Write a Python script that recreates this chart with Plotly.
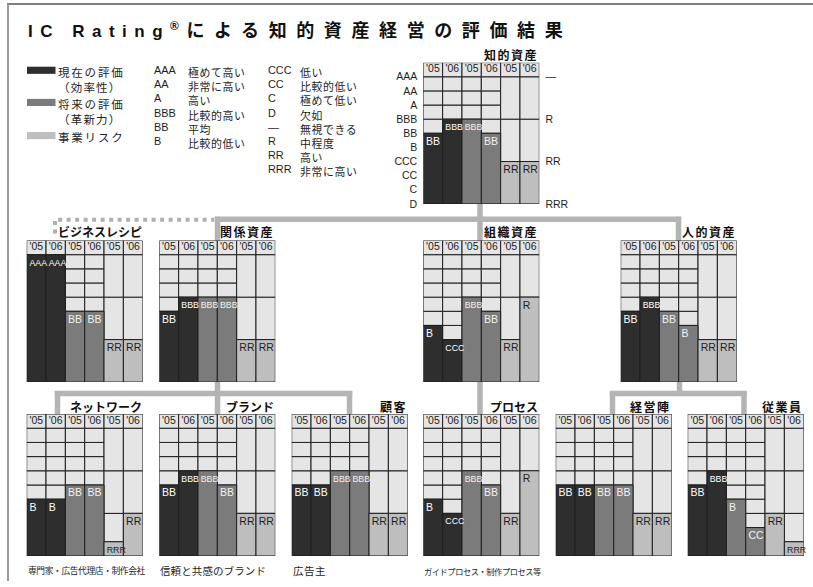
import plotly.graph_objects as go

W, H = 813, 587

# ---------------- data ----------------
RATING_LEVELS = ["D", "C", "CC", "CCC", "B", "BB", "BBB", "A", "AA", "AAA"]
RISK_LABELS = ["—", "R", "RR", "RRR"]
RISK_BAR_LEVEL = {"—": 9, "R": 6, "RR": 3, "RRR": 1}
YEARS = ["'05", "'06", "'05", "'06", "'05", "'06"]
COLUMN_KINDS = ["current", "current", "future", "future", "risk", "risk"]

panel_names = ["知的資産", "ビジネスレシピ", "関係資産", "組織資産", "人的資産",
               "ネットワーク", "ブランド", "顧客", "プロセス", "経営陣", "従業員"]
intellectual_assets = ["BB", "BBB", "BBB", "BB", "RR", "RR"]
business_recipe = ["AAA", "AAA", "BB", "BB", "RR", "RR"]
relational_assets = ["BB", "BBB", "BBB", "BBB", "RR", "RR"]
structural_assets = ["B", "CCC", "BBB", "BB", "RR", "R"]
human_assets = ["BB", "BBB", "BB", "B", "RR", "RR"]
network = ["B", "B", "BB", "BB", "RRR", "RR"]
brand = ["BB", "BBB", "BBB", "BB", "RR", "RR"]
customers = ["BB", "BB", "BBB", "BBB", "RR", "RR"]
process = ["B", "CCC", "BBB", "BB", "RR", "R"]
management = ["BB", "BB", "BB", "BB", "RR", "RR"]
employees = ["BB", "BBB", "B", "CC", "RR", "RRR"]
panel_ratings = [intellectual_assets, business_recipe, relational_assets,
                 structural_assets, human_assets, network, brand, customers,
                 process, management, employees]
panel_notes = [None, None, None, None, None,
               "専門家・広告代理店・制作会社", "信頼と共感のブランド", "広告主",
               "ガイドプロセス・制作プロセス等", None, None]

legend_series = [("現在の評価", "（効率性）"), ("将来の評価", "（革新力）"), ("事業リスク", None)]
legend_codes_1 = ["AAA", "AA", "A", "BBB", "BB", "B"]
legend_desc_1 = ["極めて高い", "非常に高い", "高い", "比較的高い", "平均", "比較的低い"]
legend_codes_2 = ["CCC", "CC", "C", "D", "—", "R", "RR", "RRR"]
legend_desc_2 = ["低い", "比較的低い", "極めて低い", "欠如", "無視できる", "中程度", "高い", "非常に高い"]

TITLE_LATIN = "IC Rating"
TITLE_MARK = "®"
TITLE_JP = "による知的資産経営の評価結果"

# ---------------- style / layout ----------------
COLORS = {"current": "#2e2e2e", "future": "#7b7b7b", "risk": "#bebebe"}
TEXT_COLORS = {"current": "#ffffff", "future": "#f2f2f2", "risk": "#1e1e1e"}
CELL = "#e5e5e5"
EDGE = "#1e1e1e"
CONN = "#b4b4b4"
JP = "Noto Sans CJK JP"
LAT = "Liberation Sans, Arial, Noto Sans CJK JP"

PW = 116.0
# (left px, top px of header, bottom px)
panel_boxes = [
    (423.3, 63.3, 206.0),
    (26.7, 243.0, 386.0), (159.3, 243.0, 386.0), (423.3, 243.0, 386.0), (620.7, 243.0, 386.0),
    (26.7, 418.3, 561.7), (159.3, 418.3, 561.7), (291.7, 418.3, 561.7),
    (423.3, 418.3, 561.7), (555.7, 418.3, 561.7), (687.7, 418.3, 561.7),
]
title_y = [55, 233.5, 233.5, 233.5, 233.5, 410.5, 410.5, 410.5, 410.5, 410.5, 410.5]
note_width = [None, None, None, None, None, 117, 106, 33, 117, None, None]


def px(x):
    return x / W


def py(y):
    return 1 - y / H


def level_of(code, kind):
    if kind == "risk":
        return RISK_BAR_LEVEL[code]
    return RATING_LEVELS.index(code)


fig = go.Figure()
layout_axes = {}
annotations = []

for k, (name, ratings) in enumerate(zip(panel_names, panel_ratings), start=1):
    xa = "x" if k == 1 else f"x{k}"
    ya = "y" if k == 1 else f"y{k}"
    cols = list(range(len(ratings)))
    vals = [level_of(r, kind) for r, kind in zip(ratings, COLUMN_KINDS)]

    # light (empty) cells above each bar
    cx, cb, ch = [], [], []
    for i, (v, kind) in enumerate(zip(vals, COLUMN_KINDS)):
        if kind == "risk":
            for lo, hi in [(0, 3), (3, 6), (6, 9)]:
                if hi > v:
                    b = max(lo, v)
                    cx.append(i); cb.append(b); ch.append(hi - b)
        else:
            for lv in range(v, 9):
                cx.append(i); cb.append(lv); ch.append(1)
    fig.add_trace(go.Bar(x=cx, y=ch, base=cb, width=1, xaxis=xa, yaxis=ya,
                         marker=dict(color=CELL, line=dict(color=EDGE, width=1)),
                         cliponaxis=False, hoverinfo="skip", showlegend=False))
    # header row
    fig.add_trace(go.Bar(x=cols, y=[1] * 6, base=[9] * 6, width=1, xaxis=xa, yaxis=ya,
                         marker=dict(color=CELL, line=dict(color=EDGE, width=1)),
                         cliponaxis=False, hoverinfo="skip", showlegend=False))
    # value bars
    fig.add_trace(go.Bar(x=cols, y=vals, base=[0] * 6, width=1, xaxis=xa, yaxis=ya,
                         marker=dict(color=[COLORS[c] for c in COLUMN_KINDS],
                                     line=dict(color=EDGE, width=1)),
                         cliponaxis=False, hoverinfo="skip", showlegend=False))
    # header labels
    fig.add_trace(go.Scatter(x=cols, y=[9.5] * 6, text=YEARS, mode="text",
                             textposition="middle center", xaxis=xa,
                             yaxis=("y12" if k == 1 else ya),
                             textfont=dict(family=LAT, size=10.5, color="#1e1e1e"),
                             cliponaxis=False, hoverinfo="skip", showlegend=False))
    # value labels, top-left inside the bars
    fig.add_trace(go.Scatter(x=[i - 0.36 for i in cols], y=[v - 0.62 for v in vals],
                             text=ratings, mode="text", textposition="middle right",
                             xaxis=xa, yaxis=ya,
                             textfont=dict(family=LAT,
                                           size=[10.5 if len(r) < 3 else 8.8 for r in ratings],
                                           color=[TEXT_COLORS[c] for c in COLUMN_KINDS]),
                             cliponaxis=False, hoverinfo="skip", showlegend=False))

    left, top, bottom = panel_boxes[k - 1]
    xkey = "xaxis" if k == 1 else f"xaxis{k}"
    ykey = "yaxis" if k == 1 else f"yaxis{k}"
    layout_axes[xkey] = dict(domain=[px(left), px(left + PW)], range=[-0.5, 5.5],
                             anchor=ya, showgrid=False, zeroline=False, showline=False,
                             showticklabels=False, fixedrange=True)
    yax = dict(domain=[py(bottom), py(top)], range=[0, 10], anchor=xa,
               showgrid=False, zeroline=False, showline=False, showticklabels=False,
               fixedrange=True)
    if k == 1:
        yax.update(showticklabels=True, tickvals=list(range(10)), ticktext=RATING_LEVELS,
                   ticks="outside", ticklen=3, tickcolor="rgba(0,0,0,0)",
                   tickfont=dict(family=LAT, size=10.5, color="#1e1e1e"))
    layout_axes[ykey] = yax

    spacing = "1.5px" if all(ord(ch) > 0x4E00 for ch in name) else "0px"
    annotations.append(dict(text=f'<span style="letter-spacing:{spacing}">{name}</span>',
                            xref=f"{xa} domain", x=1.0, xanchor="right",
                            yref="paper", y=py(title_y[k - 1]), yanchor="middle",
                            showarrow=False, borderpad=0,
                            font=dict(family=JP, size=12, color="#111111", weight="bold")))
    note = panel_notes[k - 1]
    if note:
        n = len(note)
        size = min(10.5, note_width[k - 1] / n + 0.4)
        ls = (note_width[k - 1] - n * size) / n
        annotations.append(dict(text=f'<span style="letter-spacing:{ls:.2f}px">{note}</span>',
                                xref=f"{xa} domain", x=0.0,
                                xanchor="left", yref="paper", y=py(576.5), yanchor="middle",
                                showarrow=False, borderpad=0,
                                font=dict(family=JP, size=size, color="#1e1e1e")))

# right-hand risk axis of the top panel
layout_axes["yaxis12"] = dict(overlaying="y", side="right", anchor="x", range=[0, 10],
                              tickvals=[9, 6, 3, 0], ticktext=RISK_LABELS,
                              showgrid=False, zeroline=False, showline=False,
                              ticks="outside", ticklen=3, tickcolor="rgba(0,0,0,0)",
                              tickfont=dict(family=LAT, size=10.5, color="#1e1e1e"),
                              fixedrange=True)

# ---------------- title & legend ----------------
title_html = (f'<span style="letter-spacing:7.5px">{TITLE_LATIN}<sup>{TITLE_MARK}</sup>'
              f'<span style="letter-spacing:9.6px;font-size:18px">{TITLE_JP}</span></span>')
annotations.append(dict(text=title_html, xref="paper", yref="paper", x=px(27), y=py(30),
                        xanchor="left", yanchor="middle", showarrow=False, borderpad=0,
                        font=dict(family="Liberation Sans, Noto Sans CJK JP",
                                  size=17, color="#111111", weight="bold")))

shapes = []
sw_y = [71, 103.5, 137]
for (main, sub), kind, yy in zip(legend_series, COLUMN_KINDS[::2], sw_y):
    shapes.append(dict(type="rect", xref="paper", yref="paper", x0=px(27), x1=px(55.5),
                       y0=py(yy - 3.6), y1=py(yy + 3.6), fillcolor=COLORS[kind],
                       line=dict(width=0), layer="above"))
    txt = f'<span style="letter-spacing:1.8px">{main}</span>'
    if sub:
        txt += f'<br><span style="letter-spacing:1.2px">{sub}</span>'
    annotations.append(dict(text=txt, xref="paper", yref="paper", x=px(56.5), y=py(yy - 7.5),
                            xanchor="left", yanchor="top", align="left", showarrow=False,
                            borderpad=0, font=dict(family=JP, size=11.5, color="#1e1e1e")))

row_y0 = 70.7
for col_x, (codes, descs) in zip([(153, 186.5), (267, 298.5)],
                                 [(legend_codes_1, legend_desc_1), (legend_codes_2, legend_desc_2)]):
    annotations.append(dict(text="<br>".join(codes), xref="paper", yref="paper",
                            x=px(col_x[0]), y=py(row_y0 - 7.1), xanchor="left", yanchor="top",
                            align="left", showarrow=False, borderpad=0,
                            font=dict(family=LAT, size=10.9, color="#1e1e1e")))
    annotations.append(dict(text="<br>".join(f'<span style="letter-spacing:0.6px">{d}</span>'
                                             for d in descs),
                            xref="paper", yref="paper", x=px(col_x[1]), y=py(row_y0 - 7.1),
                            xanchor="left", yanchor="top", align="left", showarrow=False,
                            borderpad=0, font=dict(family=JP, size=10.9, color="#1e1e1e")))

# ---------------- connectors & frame ----------------
def seg(x0, y0, x1, y1, color=CONN, width=5.5):
    return dict(type="line", xref="paper", yref="paper", x0=px(x0), y0=py(y0),
                x1=px(x1), y1=py(y1), line=dict(color=color, width=width), layer="below")

shapes += [
    seg(480, 206, 480, 221.5),
    seg(214.8, 221.5, 681.2, 221.5),
    seg(217.5, 219, 217.5, 420),
    seg(480, 219, 480, 420),
    seg(678.5, 219, 678.5, 245),
    seg(679.5, 384, 679.5, 400),
    seg(54.8, 397.5, 352.2, 397.5),
    seg(57.5, 395, 57.5, 420),
    seg(349.5, 395, 349.5, 420),
    seg(609.8, 397.5, 746.7, 397.5),
    seg(612.5, 395, 612.5, 420),
    seg(744, 395, 744, 420),
]
shapes.append(dict(type="path", xref="paper", yref="paper",
                   path=f"M {px(55)},{py(236)} L {px(55)},{py(222)} L {px(214)},{py(222)}",
                   line=dict(color="#b0b0b0", width=4, dash="4px,4.5px"), layer="below"))
# frame
shapes.append(dict(type="line", xref="paper", yref="paper", x0=px(7), x1=1, y0=py(4), y1=py(4),
                   line=dict(color="#555555", width=1.5), layer="above"))
shapes.append(dict(type="line", xref="paper", yref="paper", x0=px(8), x1=px(8), y0=py(4), y1=0,
                   line=dict(color="#9a9a9a", width=2), layer="above"))

fig.update_layout(width=W, height=H, margin=dict(l=0, r=0, t=0, b=0),
                  paper_bgcolor="white", plot_bgcolor="rgba(0,0,0,0)",
                  barmode="overlay", showlegend=False, annotations=annotations,
                  shapes=shapes, **layout_axes)

fig.write_html("out.html")
